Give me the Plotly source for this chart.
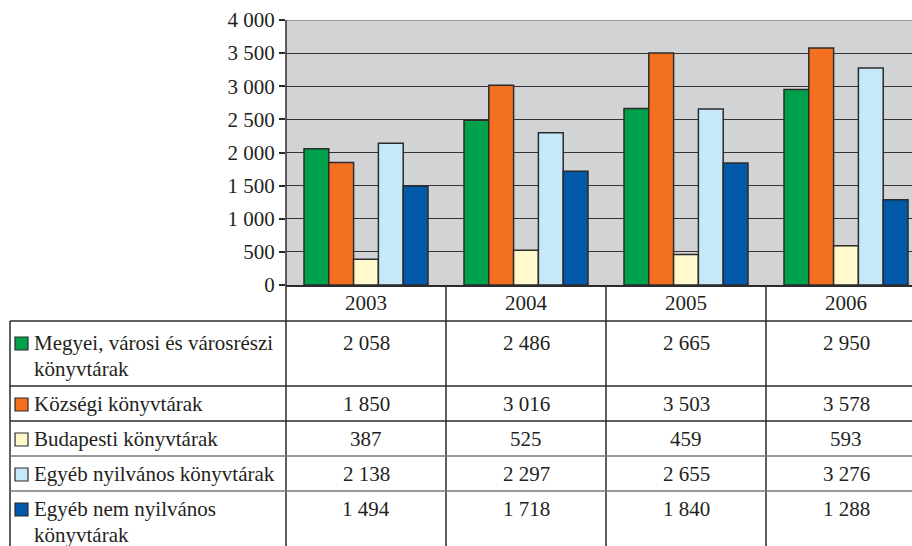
import plotly.graph_objects as go

years = ["2003", "2004", "2005", "2006"]
series_names = [
    "Megyei, városi és városrészi<br>könyvtárak",
    "Községi könyvtárak",
    "Budapesti könyvtárak",
    "Egyéb nyilvános könyvtárak",
    "Egyéb nem nyilvános<br>könyvtárak",
]
megyei = [2058, 2486, 2665, 2950]
kozsegi = [1850, 3016, 3503, 3578]
budapesti = [387, 525, 459, 593]
egyeb_nyilvanos = [2138, 2297, 2655, 3276]
egyeb_nem_nyilvanos = [1494, 1718, 1840, 1288]
series_values = [megyei, kozsegi, budapesti, egyeb_nyilvanos, egyeb_nem_nyilvanos]
colors = ["#00a14b", "#f37021", "#fff9cc", "#c6e9f9", "#0059a9"]
y_ticks = [0, 500, 1000, 1500, 2000, 2500, 3000, 3500, 4000]

W, H = 912, 546
L, R, T, B = 286, 0, 20, 261
PW, PH = W - L - R, H - T - B
FONT = "Liberation Serif"
FS = 21
TXT = "#231f20"
LINE = "#2b2b2b"


def px(xp):
    return (xp - L) / PW


def py(yp):
    return (H - B - yp) / PH


def fmt(v):
    return f"{v:,}".replace(",", " ")


fig = go.Figure()
for name, vals, col in zip(series_names, series_values, colors):
    fig.add_trace(go.Bar(
        x=list(range(len(years))), y=vals, name=name.replace("<br>", " "),
        marker=dict(color=col, line=dict(color=LINE, width=1.5)),
        showlegend=False,
    ))

shapes = []
annotations = []

# top border of plot area
shapes.append(dict(type="line", xref="paper", yref="y", x0=0, x1=1, y0=4000, y1=4000,
                   line=dict(color="#9a9a9a", width=2), layer="above"))
# vertical axis line extended through table
shapes.append(dict(type="line", xref="paper", yref="paper", x0=0, x1=0, y0=1, y1=py(H + 5),
                   line=dict(color=LINE, width=1.5)))
# category separators in table
for i in range(len(years) - 1):
    shapes.append(dict(type="line", xref="x", yref="paper", x0=i + 0.5, x1=i + 0.5,
                       y0=0, y1=py(H + 5), line=dict(color=LINE, width=1.5)))
# left border of legend column
shapes.append(dict(type="line", xref="paper", yref="paper", x0=px(10), x1=px(10),
                   y0=py(321), y1=py(H + 5), line=dict(color=LINE, width=1.5)))
# horizontal row lines
row_lines = [321, 386, 421, 456, 491]
row_line_colors = [LINE, LINE, LINE, "#777777", "#777777"]
for yl, lc in zip(row_lines, row_line_colors):
    shapes.append(dict(type="line", xref="paper", yref="paper", x0=px(10), x1=1,
                       y0=py(yl), y1=py(yl), line=dict(color=lc, width=1.5)))

# year header
for i, yr in enumerate(years):
    annotations.append(dict(x=i, y=py(303), xref="x", yref="paper", text=yr,
                            showarrow=False, font=dict(family=FONT, size=FS, color=TXT),
                            xanchor="center", yanchor="middle"))

row_first = [343, 404, 439, 474, 509]
LH = 26
for r, (name, vals, col) in enumerate(zip(series_names, series_values, colors)):
    y0 = row_first[r]
    # legend square
    shapes.append(dict(type="rect", xref="paper", yref="paper",
                       x0=px(15), x1=px(28), y0=py(y0 - 6), y1=py(y0 + 7),
                       fillcolor=col, line=dict(color=LINE, width=1.2)))
    for k, line in enumerate(name.split("<br>")):
        annotations.append(dict(x=px(32), y=py(y0 + k * LH), xref="paper", yref="paper",
                                text=line, showarrow=False,
                                font=dict(family=FONT, size=FS, color=TXT),
                                xanchor="left", yanchor="middle"))
    for i, v in enumerate(vals):
        annotations.append(dict(x=i, y=py(y0), xref="x", yref="paper", text=fmt(v),
                                showarrow=False, font=dict(family=FONT, size=FS, color=TXT),
                                xanchor="center", yanchor="middle"))

fig.update_layout(
    width=W, height=H,
    margin=dict(l=L, r=R, t=T, b=B, pad=0),
    paper_bgcolor="white", plot_bgcolor="#d1d3d4",
    barmode="group", bargap=0.225, bargroupgap=0,
    font=dict(family=FONT, size=FS, color=TXT),
    shapes=shapes, annotations=annotations,
)
fig.update_xaxes(range=[-0.5, 3.5 - 14 / 160], showticklabels=False, ticks="",
                 showgrid=False, showline=True, linecolor=LINE, linewidth=1.5,
                 zeroline=False, fixedrange=True)
fig.update_yaxes(range=[0, 4000], tickvals=y_ticks, ticktext=[fmt(v) for v in y_ticks],
                 ticks="outside", ticklen=6, tickcolor=LINE, tickwidth=1.5,
                 showgrid=True, gridcolor="#333333", gridwidth=1.2,
                 showline=False, zeroline=False, fixedrange=True,
                 tickfont=dict(family=FONT, size=FS, color=TXT))

fig.write_html("out.html", config={"displayModeBar": False},
               post_script="document.body.style.margin='0';document.body.style.overflow='hidden';")
